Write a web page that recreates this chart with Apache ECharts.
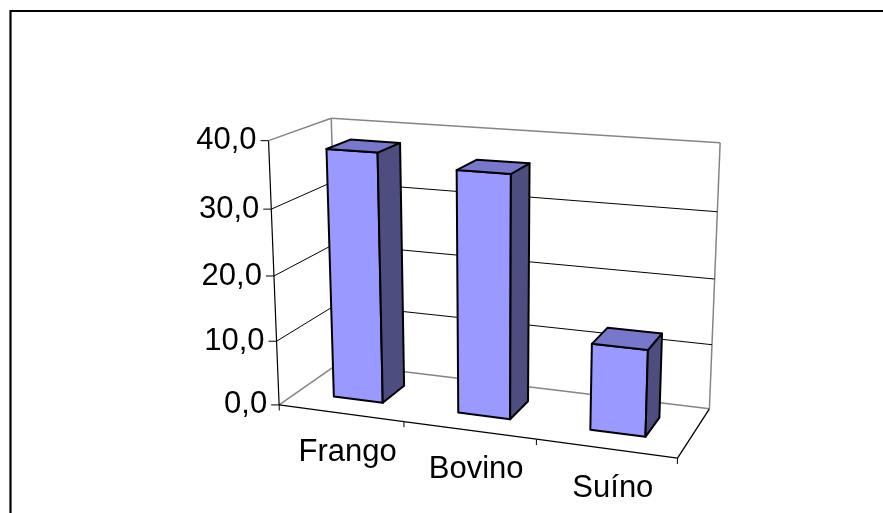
<!DOCTYPE html>
<html>
<head>
<meta charset="utf-8">
<script src="https://cdn.jsdelivr.net/npm/echarts@6/dist/echarts.min.js"></script>
<style>
  html, body { margin: 0; padding: 0; background: #ffffff; }
  #chart { width: 883px; height: 513px; }
</style>
</head>
<body>
<div id="chart"></div>
<script>
// Chart data
const categories = ['Frango', 'Bovino', 'Suíno'];
const values = [38.1, 36.4, 12.9];
const valueTicks = [0, 10, 20, 30, 40];
const tickLabels = ['0,0', '10,0', '20,0', '30,0', '40,0'];

// 3D box size (world units) and perspective camera
const BOX = { w: 418, h: 275, d: 140 };
const CAM = { yaw: 20, pitch: 15.5, focal: 1520, dist: 1520, cx: 493.5, cy: 277.5 };
const RAD = Math.PI / 180;
const cYaw = Math.cos(CAM.yaw * RAD), sYaw = Math.sin(CAM.yaw * RAD);
const cPit = Math.cos(CAM.pitch * RAD), sPit = Math.sin(CAM.pitch * RAD);

const X0 = -BOX.w / 2, X1 = BOX.w / 2;
const Y0 = -BOX.h / 2;
const Z0 = -BOX.d / 2, Z1 = BOX.d / 2;

const GRAY = '#858585';
const FONT = '"Liberation Sans", Arial, Helvetica, sans-serif';
const FONT_SIZE = 31;

// world (x right, y up, z into the screen) -> canvas pixels
function project(X, Y, Z) {
  const x1 = X * cYaw + Z * sYaw;
  const z1 = -X * sYaw + Z * cYaw;
  const y2 = Y * cPit + z1 * sPit;
  const z2 = -Y * sPit + z1 * cPit;
  const k = CAM.focal / (CAM.dist + z2);
  return [CAM.cx + x1 * k, CAM.cy - y2 * k];
}

// the hidden grid is laid out in world units: left 0, top 0, BOX.w x BOX.h
function worldX(px) { return px - BOX.w / 2; }
function worldY(py) { return BOX.h / 2 - py; }

function seg(a, b, color, width) {
  return {
    type: 'line',
    shape: { x1: a[0], y1: a[1], x2: b[0], y2: b[1] },
    style: { stroke: color, lineWidth: width || 1, fill: null }
  };
}

function label(text, x, y, align) {
  return {
    type: 'text',
    style: {
      legacy: false,
      text: text, x: x, y: y,
      fill: '#000000',
      fontSize: FONT_SIZE, fontFamily: FONT,
      align: align, verticalAlign: 'middle'
    }
  };
}

// back wall, left wall, gridlines, value axis ticks and labels
function renderWalls(params, api) {
  const idx = params.dataIndex;
  const v = api.value(1);
  const Y = worldY(api.coord([0, v])[1]);
  const isEdge = idx === 0 || idx === valueTicks.length - 1;
  const col = isEdge ? GRAY : '#000000';
  const lw = isEdge ? 1.5 : 1;
  const children = [];
  children.push(seg(project(X0, Y, Z0), project(X0, Y, Z1), col, lw));
  children.push(seg(project(X0, Y, Z1), project(X1, Y, Z1), col, lw));
  const p = project(X0, Y, Z0);
  children.push(seg([p[0] - 8, p[1]], p, '#000000', 1));
  children.push(label(tickLabels[idx], p[0] - 12, p[1], 'right'));
  if (idx === 0) {
    const Yt = worldY(api.coord([0, valueTicks[valueTicks.length - 1]])[1]);
    children.push(seg(project(X0, Y, Z1), project(X0, Yt, Z1), GRAY, 1.5));
    children.push(seg(project(X1, Y, Z1), project(X1, Yt, Z1), GRAY, 1.5));
    children.push(seg(project(X0, Y, Z0), project(X0, Yt, Z0), '#000000', 1.2));
  }
  return { type: 'group', children: children };
}

// floor front/right edges, category ticks and labels
function renderCategoryAxis(params, api) {
  const idx = params.dataIndex;
  const c = api.coord([idx, 0]);
  const band = api.size([1, 0])[0];
  const xc = worldX(c[0]);
  const xl = xc - band / 2, xr = xc + band / 2;
  const children = [];
  children.push(seg(project(xl, Y0, Z0), project(xr, Y0, Z0), '#000000', 1.3));
  children.push(seg(project(xl, Y0, Z0), project(xl, Y0 - 6, Z0), '#000000', 1));
  if (idx === categories.length - 1) {
    children.push(seg(project(xr, Y0, Z0), project(xr, Y0 - 6, Z0), '#000000', 1));
    children.push(seg(project(X1, Y0, Z0), project(X1, Y0, Z1), '#000000', 1.3));
  }
  const p = project(xc, Y0, Z0);
  children.push(label(categories[idx], p[0] + 7, p[1] + 39.5, 'center'));
  return { type: 'group', children: children };
}

// 3D column: front, right side and top faces
function renderBar(params, api) {
  const i = api.value(0);
  const v = api.value(1);
  const base = api.coord([i, 0]);
  const top = api.coord([i, v]);
  const band = api.size([1, 0])[0];
  const bw = band / 2.5;
  const xa = worldX(base[0]) - bw / 2, xb = xa + bw;
  const ya = worldY(base[1]), yb = worldY(top[1]);
  const za = -bw / 2, zb = bw / 2;
  const face = (pts, fill) => ({
    type: 'polygon',
    shape: { points: pts.map(q => project(q[0], q[1], q[2])) },
    style: { fill: fill, stroke: '#000000', lineWidth: 2, lineJoin: 'round' }
  });
  return {
    type: 'group',
    children: [
      face([[xa, ya, za], [xb, ya, za], [xb, yb, za], [xa, yb, za]], '#9999ff'),
      face([[xb, ya, za], [xb, ya, zb], [xb, yb, zb], [xb, yb, za]], '#4d4d80'),
      face([[xa, yb, za], [xb, yb, za], [xb, yb, zb], [xa, yb, zb]], '#7777cc')
    ]
  };
}

const chart = echarts.init(document.getElementById('chart'), null, { renderer: 'canvas' });
chart.setOption({
  animation: false,
  backgroundColor: '#ffffff',
  grid: { left: 0, top: 0, width: BOX.w, height: BOX.h, containLabel: false, show: false },
  xAxis: { type: 'category', data: categories, show: false },
  yAxis: { type: 'value', min: 0, max: 40, interval: 10, show: false },
  graphic: [{
    type: 'rect',
    silent: true,
    shape: { x: 10.5, y: 11, width: 900, height: 600 },
    style: { fill: null, stroke: '#000000', lineWidth: 2.2 }
  }],
  series: [
    {
      type: 'custom', name: 'walls', z: 1, silent: true, clip: false,
      renderItem: renderWalls,
      data: valueTicks.map(v => [0, v])
    },
    {
      type: 'custom', name: 'categoryAxis', z: 2, silent: true, clip: false,
      renderItem: renderCategoryAxis,
      data: categories.map((c, i) => [i, 0])
    },
    {
      type: 'custom', name: 'bars', z: 3, clip: false,
      renderItem: renderBar,
      data: values.map((v, i) => [i, v])
    }
  ]
});
</script>
</body>
</html>
